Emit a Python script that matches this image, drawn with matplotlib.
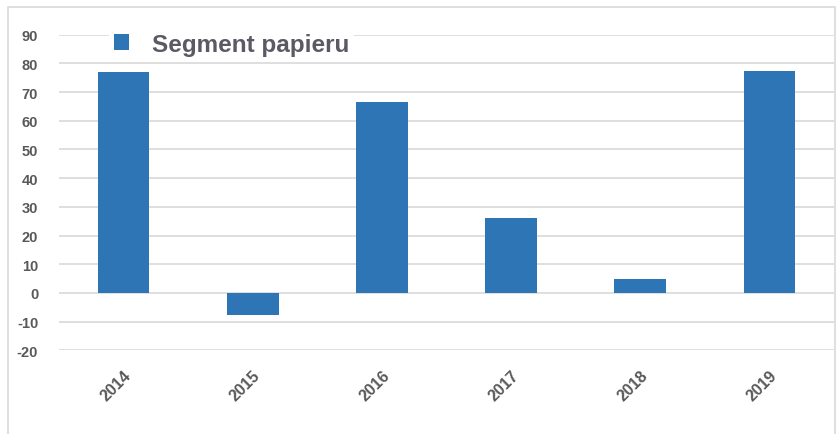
import matplotlib
matplotlib.use("Agg")
import matplotlib.pyplot as plt
from matplotlib.patches import Rectangle

years = ["2014", "2015", "2016", "2017", "2018", "2019"]
values = [77.0, -7.8, 66.7, 26.2, 4.8, 77.2]
series_name = "Segment papieru"
y_ticks = [-20, -10, 0, 10, 20, 30, 40, 50, 60, 70, 80, 90]

plt.rcParams["font.family"] = ["Liberation Sans", "DejaVu Sans"]
text_color = "#595959"
bar_color = "#2E75B6"
grid_color = "#d9d9d9"

fig = plt.figure(figsize=(8.4, 4.35), dpi=100)
ax = fig.add_axes([59 / 840, 1 - 351.3 / 435, 775 / 840, (351.3 - 35.7) / 435])

# outer chart frame
fig.patches.append(Rectangle((8 / 840, -0.1), 827 / 840, 1.1 - 8 / 435,
                             transform=fig.transFigure, fill=False,
                             edgecolor=grid_color, linewidth=1.2))

x = range(len(years))
ax.bar(x, values, width=0.4, color=bar_color, label=series_name, zorder=3)

ax.set_xlim(-0.5, len(years) - 0.5)
ax.set_ylim(-20, 90)
ax.set_yticks(y_ticks)
ax.set_yticklabels([str(t) for t in y_ticks], fontsize=10.5, fontweight="bold",
                   color=text_color)
ax.set_xticks(list(x))
ax.set_xticklabels(years, rotation=45, ha="right", rotation_mode="anchor",
                   fontsize=11.5, fontweight="bold", color=text_color)
ax.tick_params(axis="both", length=0)
ax.tick_params(axis="y", pad=15)
ax.tick_params(axis="x", pad=12)

ax.yaxis.grid(True, color=grid_color, linewidth=1.2, zorder=0)
for s in ax.spines.values():
    s.set_visible(False)

leg = ax.legend(loc="upper left", bbox_to_anchor=(38 / 775, 1.06),
                frameon=True, fontsize=17.5, handlelength=0.6, handleheight=0.6,
                handletextpad=0.95, borderpad=0.2, labelcolor="#5a5a64")
leg.get_frame().set_edgecolor("none")
leg.get_frame().set_facecolor("white")
leg.get_frame().set_alpha(1)
for t in leg.get_texts():
    t.set_fontweight("bold")
leg.set_zorder(5)

fig.savefig("out.png", dpi=100)
